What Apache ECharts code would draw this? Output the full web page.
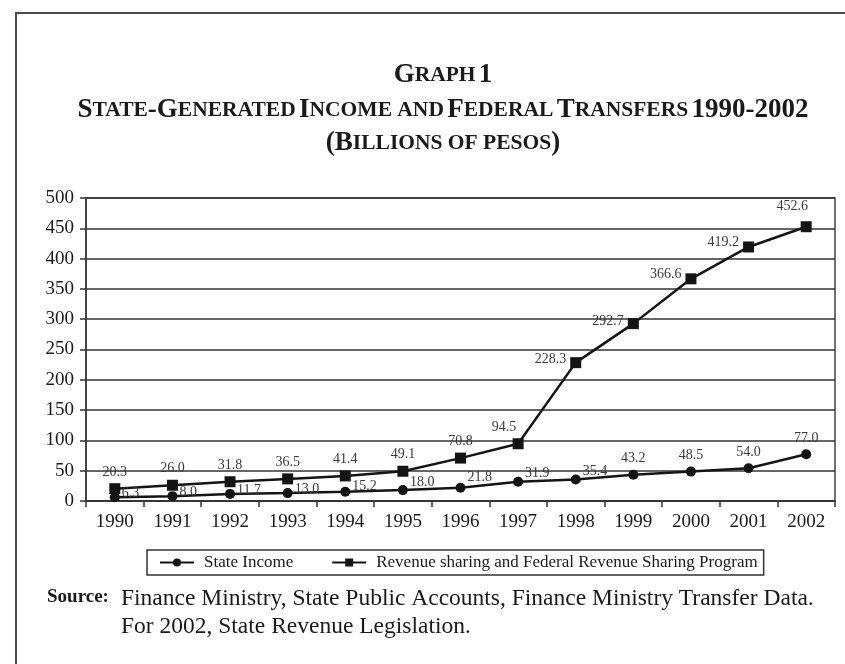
<!DOCTYPE html>
<html>
<head>
<meta charset="utf-8">
<style>
  html, body { margin: 0; padding: 0; background: #fff; }
  #chart { width: 845px; height: 664px; }
</style>
<script src="https://cdn.jsdelivr.net/npm/echarts@6/dist/echarts.min.js"></script>
</head>
<body>
<div id="chart"></div>
<script>
// Billions of pesos, 1990-2002
const years = ['1990', '1991', '1992', '1993', '1994', '1995', '1996', '1997', '1998', '1999', '2000', '2001', '2002'];
const stateIncome = [6.3, 8.0, 11.7, 13.0, 15.2, 18.0, 21.8, 31.9, 35.4, 43.2, 48.5, 54.0, 77.0];
const revenueSharing = [20.3, 26.0, 31.8, 36.5, 41.4, 49.1, 70.8, 94.5, 228.3, 292.7, 366.6, 419.2, 452.6];
const yTicks = [0, 50, 100, 150, 200, 250, 300, 350, 400, 450, 500];

const SERIF = '"Liberation Serif", "DejaVu Serif", serif';
const INK = '#1a1a1a';

// Label placement for each point (styling only)
const revLabelPlace = [
  ['top', [0, 0]], ['top', [0, 0]], ['top', [0, 0]], ['top', [0, 0]], ['top', [0, 0]],
  ['top', [0, 0]], ['top', [0, 0]], ['top', [-14, 0]], ['left', [0, -3]], ['left', [0, -2]],
  ['left', [0, -5]], ['left', [0, -5]], ['top', [-14, -4]]
];
const incLabelPlace = [
  ['right', [-2, -4]], ['right', [-2, -4]], ['right', [-2, -4]], ['right', [-2, -4]], ['right', [-2, -5]],
  ['right', [-2, -8]], ['right', [-2, -10]], ['right', [-2, -8]], ['right', [-2, -8]], ['top', [0, 0]],
  ['top', [0, 0]], ['top', [0, 0]], ['top', [0, 0]]
];

function withLabels(values, places) {
  return values.map((v, i) => ({
    value: v,
    label: { position: places[i][0], offset: places[i][1] }
  }));
}

// Small-caps style heading lines built from rich segments
const capRich = {
  b: { fontFamily: SERIF, fontWeight: 'bold', fontSize: 27, fill: INK, color: INK },
  s: { fontFamily: SERIF, fontWeight: 'bold', fontSize: 21.5, fill: INK, color: INK }
};
function heading(text, y) {
  return {
    type: 'text', x: 443, y: y, silent: true,
    style: { text: text, rich: capRich, align: 'center', verticalAlign: 'middle' }
  };
}

const chart = echarts.init(document.getElementById('chart'), null, { renderer: 'canvas' });

chart.setOption({
  backgroundColor: '#ffffff',
  animation: false,
  graphic: [
    {
      type: 'rect',
      shape: { x: 16, y: 13, width: 900, height: 700 },
      style: { fill: 'none', stroke: '#4a4a4a', lineWidth: 2 },
      silent: true
    },
    heading('{b|G}{s|RAPH} {b|1}', 75),
    heading('{b|S}{s|TATE}{b|-G}{s|ENERATED} {b|I}{s|NCOME AND} {b|F}{s|EDERAL} {b|T}{s|RANSFERS} {b|1990-2002}', 110),
    heading('{b|(B}{s|ILLIONS OF PESOS}{b|)}', 143),
    {
      type: 'text',
      left: 47, top: 588,
      style: {
        text: 'Source:',
        fontFamily: SERIF, fontWeight: 'bold', fontSize: 19, fill: INK
      }
    },
    {
      type: 'text',
      left: 121, top: 585,
      style: {
        text: 'Finance Ministry, State Public Accounts, Finance Ministry Transfer Data.\nFor 2002, State Revenue Legislation.',
        fontFamily: SERIF, fontSize: 23.5, fill: INK, lineHeight: 28
      }
    }
  ],
  legend: {
    left: 147, top: 550,
    padding: [4, 6, 4, 12],
    itemGap: 38,
    itemWidth: 34, itemHeight: 10,
    borderColor: '#333', borderWidth: 1.5,
    textStyle: { fontFamily: SERIF, fontSize: 17, color: INK, padding: [0, 0, 0, 5] },
    data: ['State Income', 'Revenue sharing and Federal Revenue Sharing Program']
  },
  grid: {
    left: 86, right: 10, top: 198, bottom: 163,
    show: true, borderColor: '#444', borderWidth: 1.5, backgroundColor: 'transparent'
  },
  xAxis: {
    type: 'category',
    data: years,
    boundaryGap: true,
    axisLine: { lineStyle: { color: '#333', width: 1.5 } },
    axisTick: { show: true, length: 6, inside: false, lineStyle: { color: '#333', width: 1.5 } },
    axisLabel: { fontFamily: SERIF, fontSize: 19, color: INK, margin: 12 }
  },
  yAxis: {
    type: 'value',
    min: yTicks[0], max: yTicks[yTicks.length - 1], interval: yTicks[1] - yTicks[0],
    axisLine: { show: true, lineStyle: { color: '#333', width: 1.5 } },
    axisTick: { show: true, length: 6, lineStyle: { color: '#333', width: 1.5 } },
    axisLabel: { fontFamily: SERIF, fontSize: 19, color: INK, margin: 12 },
    splitLine: { show: true, lineStyle: { color: '#333', width: 1.5 } }
  },
  series: [
    {
      name: 'State Income',
      type: 'line',
      data: withLabels(stateIncome, incLabelPlace),
      symbol: 'circle', symbolSize: 10,
      lineStyle: { color: '#141414', width: 2.5 },
      itemStyle: { color: '#141414' },
      label: {
        show: true, distance: 4,
        fontFamily: SERIF, fontSize: 14, color: '#3a3a3a',
        formatter: p => p.value.toFixed(1)
      },
      z: 3
    },
    {
      name: 'Revenue sharing and Federal Revenue Sharing Program',
      type: 'line',
      data: withLabels(revenueSharing, revLabelPlace),
      symbol: 'rect', symbolSize: 11,
      lineStyle: { color: '#141414', width: 2.5 },
      itemStyle: { color: '#141414' },
      label: {
        show: true, distance: 4,
        fontFamily: SERIF, fontSize: 14, color: '#3a3a3a',
        formatter: p => p.value.toFixed(1)
      },
      z: 3
    }
  ]
});
</script>
</body>
</html>
